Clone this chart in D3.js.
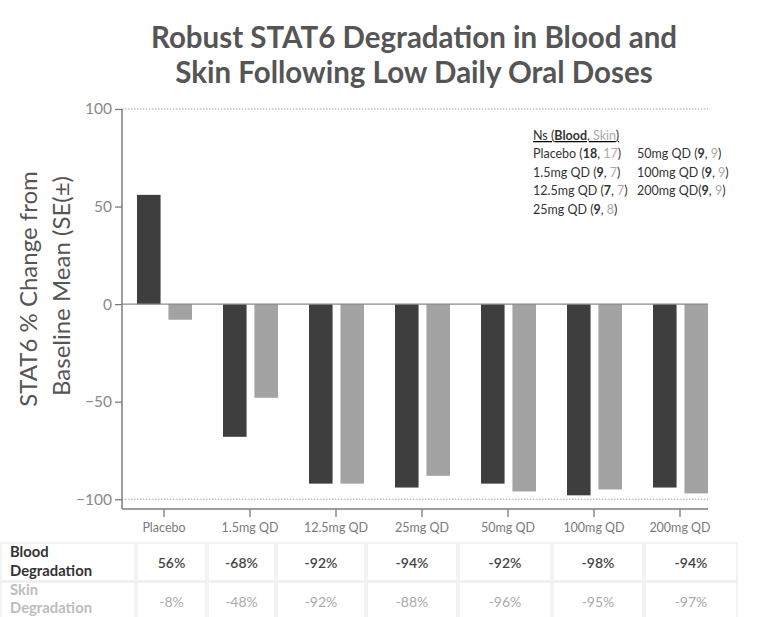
<!DOCTYPE html>
<html>
<head>
    <script src="https://cdn.jsdelivr.net/npm/d3@7"></script>
    <meta charset="utf-8">
    <style>
        body { margin: 0; background: #fff; }
        text { font-family: Lato, "Open Sans", sans-serif; }
    </style>
</head>
<body>
    <script>
        var doses = ['Placebo', '1.5mg QD', '12.5mg QD', '25mg QD', '50mg QD', '100mg QD', '200mg QD'];
        var bloodValues = [56, -68, -92, -94, -92, -98, -94];
        var skinValues = [-8, -48, -92, -88, -96, -95, -97];
        var yTicks = [100, 50, 0, -50, -100];

        var nLabels = ['Placebo ', '1.5mg QD ', '12.5mg QD ', '25mg QD ', '50mg QD ', '100mg QD ', '200mg QD'];
        var nBlood = [18, 9, 7, 9, 9, 9, 9];
        var nSkin = [17, 7, 7, 8, 9, 9, 9];

        var series = ['Blood', 'Skin'];
        var colors = { Blood: '#3e3e3e', Skin: '#a3a3a3' };

        var W = 758, H = 617;
        var svg = d3.select('body').append('svg')
            .attr('width', W).attr('height', H);

        // title
        var title = svg.append('text')
            .attr('text-anchor', 'middle')
            .attr('font-size', 29.5).attr('font-weight', 'bold').attr('fill', '#555');
        title.append('tspan').attr('x', 414).attr('y', 48).text('Robust STAT6 Degradation in Blood and');
        title.append('tspan').attr('x', 414).attr('y', 83).text('Skin Following Low Daily Oral Doses');

        // scales
        var x0 = d3.scaleBand().domain(doses).range([121, 723]);
        var x1 = d3.scaleBand().domain(series).range([16, 71]).paddingInner(0.25);
        var y = d3.scaleLinear().domain([-105, 100]).range([509, 109]);

        var g = svg.append('g');

        // dotted reference lines at +/-100
        g.selectAll('line.ref')
            .data([100, -100])
            .enter().append('line')
            .attr('class', 'ref')
            .attr('x1', 122).attr('x2', 708)
            .attr('y1', function (d) { return y(d); })
            .attr('y2', function (d) { return y(d); })
            .attr('stroke', '#c4c4c4').attr('stroke-width', 1.3)
            .attr('stroke-dasharray', '1.5,1.5');

        // bars
        var rows = doses.map(function (d, i) {
            return { dose: d, Blood: bloodValues[i], Skin: skinValues[i] };
        });
        var groups = g.selectAll('g.grp')
            .data(rows)
            .enter().append('g')
            .attr('class', 'grp')
            .attr('transform', function (d) { return 'translate(' + x0(d.dose) + ',0)'; });
        groups.selectAll('rect')
            .data(function (d) { return series.map(function (s) { return { s: s, v: d[s] }; }); })
            .enter().append('rect')
            .attr('x', function (d) { return x1(d.s); })
            .attr('width', x1.bandwidth())
            .attr('y', function (d) { return y(Math.max(0, d.v)); })
            .attr('height', function (d) { return Math.abs(y(d.v) - y(0)); })
            .attr('fill', function (d) { return colors[d.s]; });

        // zero line
        g.append('line')
            .attr('x1', 122).attr('x2', 708)
            .attr('y1', y(0)).attr('y2', y(0))
            .attr('stroke', '#8a8a8a').attr('stroke-width', 1.3);

        // y axis
        var yAxis = g.append('g')
            .attr('transform', 'translate(122,0)')
            .call(d3.axisLeft(y).tickValues(yTicks).tickSize(7).tickPadding(3));
        yAxis.select('.domain').remove();
        yAxis.append('line')
            .attr('x1', 0).attr('x2', 0).attr('y1', y(100)).attr('y2', 509)
            .attr('stroke', '#7d7d7d').attr('stroke-width', 1.5);
        yAxis.selectAll('.tick line').attr('stroke', '#7d7d7d').attr('stroke-width', 1.3);
        yAxis.selectAll('.tick text')
            .attr('font-size', 15.5).attr('fill', '#8a8a8a')
            .attr('font-family', 'Lato, sans-serif');

        // x axis
        var xAxis = g.append('g')
            .attr('transform', 'translate(0,509)')
            .call(d3.axisBottom(x0).tickSize(8).tickSizeOuter(0).tickPadding(6));
        xAxis.select('.domain').remove();
        xAxis.append('line')
            .attr('x1', 122).attr('x2', 708).attr('y1', 0).attr('y2', 0)
            .attr('stroke', '#7d7d7d').attr('stroke-width', 1.5);
        xAxis.selectAll('.tick line').attr('stroke', '#7d7d7d').attr('stroke-width', 1.3);
        xAxis.selectAll('.tick text')
            .attr('font-size', 12.5).attr('fill', '#7a7a7a')
            .attr('font-family', 'Lato, sans-serif');

        // y label
        var yl = svg.append('text')
            .attr('transform', 'translate(0,289) rotate(-90)')
            .attr('text-anchor', 'middle')
            .attr('font-size', 24).attr('fill', '#555');
        yl.append('tspan').attr('x', 0).attr('y', 37).text('STAT6 % Change from');
        yl.append('tspan').attr('x', 3).attr('y', 70).text('Baseline Mean (SE(±)');

        // Ns legend
        var leg = svg.append('g').attr('font-size', 12.5);
        var head = leg.append('text').attr('x', 533).attr('y', 140)
            .attr('text-decoration', 'underline');
        head.append('tspan').attr('fill', '#333').text('Ns (');
        head.append('tspan').attr('fill', '#333').attr('font-weight', 'bold').text('Blood');
        head.append('tspan').attr('fill', '#333').text(', ');
        head.append('tspan').attr('fill', '#aaa').text('Skin');
        head.append('tspan').attr('fill', '#333').text(')');

        nLabels.forEach(function (lab, i) {
            var col = i < 4 ? 0 : 1;
            var r = i < 4 ? i : i - 4;
            var t = leg.append('text')
                .attr('x', col === 0 ? 533 : 637)
                .attr('y', 158 + r * 18.5);
            t.append('tspan').attr('fill', '#333').text(lab + '(');
            t.append('tspan').attr('fill', '#333').attr('font-weight', 'bold').text(nBlood[i]);
            t.append('tspan').attr('fill', '#333').text(', ');
            t.append('tspan').attr('fill', '#aaa').text(nSkin[i]);
            t.append('tspan').attr('fill', '#333').text(')');
        });

        // table below
        var colEdges = [0, 136, 207, 276, 366, 458, 552, 644, 738];
        var rowTops = [543, 582];
        var rowH = 38;
        var tableRows = [
            { label: ['Blood', 'Degradation'], vals: bloodValues, lab: '#333', val: '#444' },
            { label: ['Skin', 'Degradation'], vals: skinValues, lab: '#bdbdbd', val: '#ababab' }
        ];
        var tbl = svg.append('g');
        tableRows.forEach(function (row, ri) {
            var top = rowTops[ri];
            for (var c = 0; c < colEdges.length - 1; c++) {
                tbl.append('rect')
                    .attr('x', colEdges[c] + 1).attr('y', top)
                    .attr('width', colEdges[c + 1] - colEdges[c] - 2).attr('height', rowH)
                    .attr('fill', 'none').attr('stroke', '#ececec').attr('stroke-width', 1.2);
            }
            var lt = tbl.append('text').attr('font-size', 14.8)
                .attr('font-weight', 'bold').attr('fill', row.lab);
            lt.append('tspan').attr('x', 10).attr('y', top + (ri === 0 ? 14 : 13)).text(row.label[0]);
            lt.append('tspan').attr('x', 10).attr('y', top + (ri === 0 ? 33 : 31)).text(row.label[1]);
            tbl.selectAll(null)
                .data(row.vals)
                .enter().append('text')
                .attr('x', function (d, i) { return (colEdges[i + 1] + colEdges[i + 2]) / 2; })
                .attr('y', top + 25)
                .attr('text-anchor', 'middle')
                .attr('font-size', 14)
                .attr('font-weight', ri === 0 ? 600 : 'normal')
                .attr('fill', row.val)
                .text(function (d) { return d + '%'; });
        });
    </script>
</body>
</html>
